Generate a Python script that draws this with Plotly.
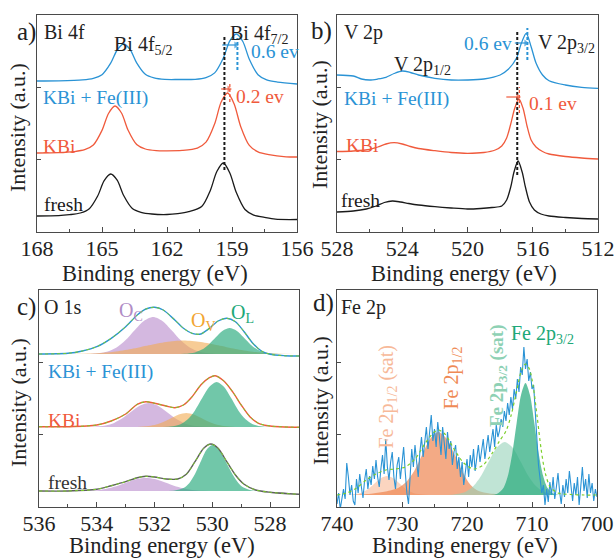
import plotly.graph_objects as go

W, H = 615, 558
FONT = "Times New Roman, Liberation Serif, serif"
BLUE = "#2a93d5"
RED = "#f05a3c"
BLACK = "#1a1a1a"
GRAY = "#5e5e5e"
FRAME = "#4a4a4a"

# ---------------- Panel a : Bi 4f ----------------
a_fresh_x = [168.0, 167.0, 166.5, 166.0, 165.6, 165.2, 164.9, 164.6, 164.3, 164.0, 163.6, 163.2, 162.7, 162.0,
             161.5, 161.0, 160.4, 160.0, 159.7, 159.4, 159.1, 158.8, 158.4, 158.0, 157.5, 157.0, 156.0]
a_fresh_y = [16, 16.3, 17.3, 19, 23, 36, 51.3, 58, 51.8, 36.5, 23.5, 19.7, 18, 17.5,
             18.4, 20.3, 25.4, 41.6, 60.5, 69, 59, 39.4, 22.5, 16.9, 14.6, 12.8, 12.5]
a_kbi_x = [168, 167, 166.3, 165.8, 165.4, 165.0, 164.7, 164.4, 164.1, 163.8, 163.4, 163.0, 162.5, 162.0,
           161.3, 160.6, 160.2, 159.8, 159.5, 159.2, 158.9, 158.6, 158.2, 157.8, 157.3, 156.5, 156.0]
a_kbi_y = [79, 79.3, 80.4, 82.3, 87, 101.6, 118.5, 126, 119, 102, 87.5, 83, 81.4, 81.2,
           81.6, 83.9, 89.8, 108.2, 130, 139, 128, 105.6, 86.6, 80.1, 77.3, 75.2, 75]
a_fe_x = [168, 167, 165.9, 165.4, 165.0, 164.6, 164.3, 164.0, 163.7, 163.4, 163.0, 162.6, 162.1,
          161.5, 160.7, 160.2, 159.8, 159.4, 159.1, 158.8, 158.5, 158.2, 157.8, 157.4, 156.9, 156.0]
a_fe_y = [151, 151.2, 152.1, 153.6, 157.3, 168.8, 182, 188, 182.3, 169.1, 157.7, 154.1, 152.6,
          152.5, 152.7, 154.4, 159.1, 174, 191.2, 198, 190.5, 172.7, 157.3, 152.1, 149.9, 148]
# reference peak positions (eV) and the vertical extent of their dashed markers
a_marks_x = [159.35, 159.1, 158.75]
a_marks_y0 = [62, 130, 162]
a_marks_y1 = [197, 150, 194]
a_arrows = [(159.45, 158.82, 187, BLUE), (159.5, 159.14, 143, RED)]

# ---------------- Panel b : V 2p ----------------
b_fresh_x = [528, 527, 526.2, 525.6, 525.1, 524.6, 524.1, 523.6, 523, 522, 521, 520, 519.2, 518.5, 517.9, 517.6,
             517.35, 517.15, 516.9, 516.65, 516.45, 516.2, 515.9, 515.5, 515, 514, 513, 512]
b_fresh_y = [20, 21, 23, 26, 29.5, 31, 30, 28.5, 27, 25.3, 24, 23, 23.5, 24.5, 26, 32,
             45, 60, 71, 60, 45, 30, 22, 18, 16, 14.5, 13.5, 13]
b_kbi_x = [528, 527, 526, 525.5, 525, 524.5, 524, 523.5, 523, 522, 521, 520, 519, 518.3, 517.9, 517.6,
           517.35, 517.1, 516.85, 516.6, 516.35, 516.1, 515.8, 515.4, 515, 514, 513, 512]
b_kbi_y = [80.5, 81, 82.5, 85, 88, 89.3, 88, 85.5, 83.5, 81.3, 79.5, 78.7, 79.5, 82, 86, 94,
           108, 124, 133, 124, 106, 92, 85, 80.5, 78, 75.5, 74, 73]
b_fe_x = [528, 527, 526.5, 526, 525.5, 525, 524.5, 524, 523.5, 523, 522, 521, 520, 519, 518, 517.5,
          517.0, 516.7, 516.4, 516.1, 515.8, 515.4, 515, 514, 513, 512]
b_fe_y = [157, 156, 153, 152, 153, 154.7, 158.5, 161, 159.5, 157, 153.7, 152, 152, 153, 157, 162.7,
          173.7, 188.7, 198.7, 185.3, 169, 157, 151.3, 147, 144.7, 143.7]
b_marks_x = [516.95, 516.82, 516.33]
b_marks_y0 = [57, 119, 172]
b_marks_y1 = [202, 145, 204]
b_arrows = [(517.1, 516.42, 189, BLUE), (517.62, 516.9, 135, RED)]

# ---------------- Panel c : O 1s ----------------
c_fresh_oc_x = [534.8, 534.3, 533.9, 533.5, 533.2, 532.9, 532.6, 532.3, 532.0, 531.7, 531.4, 531.1, 530.7, 530.3, 529.8]
c_fresh_oc_y = [16, 16.3, 17.1, 19.3, 22, 25.2, 27.9, 29, 27.9, 25.2, 22, 19.3, 17.1, 16.3, 16]
c_fresh_ol_x = [531.7, 531.3, 531.0, 530.8, 530.6, 530.4, 530.2, 530.0, 529.8, 529.6, 529.4, 529.2, 529.0, 528.7, 528.3]
c_fresh_ol_y = [16, 16.4, 18.9, 23.8, 33, 45.5, 57.2, 62, 58.5, 49, 38, 28, 21, 17, 16]
c_fresh_env_x = [536, 535, 534, 533.5, 533, 532.6, 532.3, 532.0, 531.6, 531.2, 530.9, 530.6, 530.3, 530.05,
                 529.8, 529.5, 529.2, 528.9, 528.5, 528, 527]
c_fresh_env_y = [16, 16, 17.7, 21.3, 25.3, 29.3, 30.7, 30, 28, 28, 32.7, 45.3, 58.7, 63,
                 58.7, 45.3, 32, 22.7, 17, 14.7, 12.7]

c_kbi_oc_x = [534.6, 534.15, 533.7, 533.4, 533.1, 532.8, 532.5, 532.2, 531.9, 531.6, 531.3, 531.0, 530.7, 530.25, 529.8]
c_kbi_oc_y = [80, 80.2, 81.5, 84.1, 88.9, 95.4, 101.5, 104, 101.5, 95.4, 88.9, 84.1, 81.5, 80.2, 80]
c_kbi_ov_x = [533.0, 532.6, 532.2, 531.94, 531.68, 531.42, 531.16, 530.9, 530.64, 530.38, 530.12, 529.86, 529.6, 529.2, 528.8]
c_kbi_ov_y = [80, 80.1, 80.9, 82.4, 85.2, 89, 92.5, 94, 92.5, 89, 85.2, 82.4, 80.9, 80.1, 80]
c_kbi_ol_x = [531.9, 531.45, 531.1, 530.85, 530.6, 530.35, 530.1, 529.85, 529.6, 529.35, 529.1, 528.85, 528.6, 528.25, 527.8]
c_kbi_ol_y = [80, 80.4, 82.8, 87.7, 96.6, 108.9, 120.3, 125, 120.3, 108.9, 96.6, 87.7, 82.8, 80.4, 80]
c_kbi_env_x = [536, 535, 534, 533.5, 533, 532.6, 532.3, 532.0, 531.6, 531.3, 531.0, 530.7, 530.4, 530.1,
               529.9, 529.6, 529.3, 529.0, 528.7, 528.4, 528, 527]
c_kbi_env_y = [80.3, 80.3, 82, 86, 93, 102.7, 105.3, 103.7, 101, 99.3, 102, 110.3, 122, 129.3,
               131.3, 126, 115.3, 102, 90.3, 83.7, 81, 79.7]

c_fe_oc_x = [534.6, 534.15, 533.65, 533.33, 533.01, 532.69, 532.37, 532.05, 531.73, 531.41, 531.09, 530.77, 530.45, 529.95, 529.5]
c_fe_oc_y = [153, 153.3, 155.3, 159.3, 166.7, 176.8, 186.1, 190, 186.1, 176.8, 166.7, 159.3, 155.3, 153.3, 153]
c_fe_ov_x = [535.5, 534.9, 534.0, 533.4, 532.8, 532.2, 531.6, 531.0, 530.4, 529.8, 529.2, 528.6, 528.0, 527.1]
c_fe_ov_y = [153, 153.1, 153.8, 155.3, 158, 161.7, 165.1, 166.5, 165.1, 161.7, 158, 155.3, 153.8, 153]
c_fe_ol_x = [531.4, 530.96, 530.6, 530.36, 530.12, 529.88, 529.64, 529.4, 529.16, 528.92, 528.68, 528.44, 528.2, 527.84, 527.4]
c_fe_ol_y = [153, 153.2, 154.6, 157.4, 162.6, 169.7, 176.3, 179, 176.3, 169.7, 162.6, 157.4, 154.6, 153.2, 153]
c_fe_env_x = [536, 535, 534.5, 534, 533.5, 533, 532.6, 532.3, 532.0, 531.7, 531.3, 531.0, 530.7, 530.4,
              530.1, 529.8, 529.5, 529.2, 528.9, 528.6, 528.3, 528, 527.5, 527]
c_fe_env_y = [153, 153.7, 156, 160.3, 168.7, 180.3, 192, 198, 199.7, 197, 187, 178.7, 173.7, 173,
              178.7, 186, 188.7, 185.3, 175.3, 163.7, 156, 152.7, 151.3, 151]

# ---------------- Panel d : Fe 2p ----------------
d_sat12_x = [739.5, 738.15, 736.8, 735.9, 735.0, 734.1, 733.2, 732.3, 731.4, 730.5, 729.6, 728.7, 727.8, 726.45, 725.0]
d_sat12_y = [12, 12.2, 13.2, 15.2, 19, 24.2, 29, 31, 29, 24.2, 19, 15.2, 13.2, 12.2, 12]
d_p12_x = [738.5, 737, 734.5, 732.5, 730.6, 729.36, 728.12, 726.88, 725.64, 724.4, 723.16, 721.92, 720.68,
           719.44, 718.2, 716.5, 714, 711, 709]
d_p12_y = [12, 12.2, 13.5, 15.5, 19, 25, 36, 52.4, 68.4, 75, 68.4, 52.4, 35, 22, 16, 13.5, 12.5, 12.1, 12]
d_sat32_x = [723.5, 722.0, 720.2, 719.0, 717.8, 716.6, 715.4, 714.2, 713.0, 711.8, 710.6, 709.4, 708.2, 706.4, 704.5]
d_sat32_y = [12, 12.5, 15.3, 21, 31.6, 46, 59.4, 65, 59.4, 46, 31.6, 21, 15.3, 12.5, 12]
d_p32_x = [716.5, 715.42, 714.4, 713.72, 713.04, 712.36, 711.68, 711.0, 710.32, 709.64, 708.96, 708.28, 707.6, 706.58, 705.5]
d_p32_y = [12, 13, 19, 31, 53.3, 83.9, 112.2, 124, 112.2, 83.9, 53.3, 31, 19, 13, 12]
d_env_x = [740, 738.5, 737, 735.5, 734, 732.5, 731, 729.5, 728, 726.5, 725.2, 724.4, 723.4, 722, 720.5, 719, 717.5,
           716, 715, 714, 713.2, 712.4, 711.6, 711.0, 710.4, 709.8, 709.2, 708.6, 708, 707.2, 706, 704, 702, 700]
d_env_y = [12, 14, 19, 27, 33, 37, 38, 40, 48, 63, 74, 77, 73, 58, 44, 38, 42,
           55, 66, 76, 92, 115, 137, 143, 138, 120, 90, 58, 35, 20, 14, 12.5, 12, 12]
# raw spectrum, one value every 0.25 eV from 740 eV down to 700 eV
d_raw_start, d_raw_step = 740.0, 0.25
d_raw_y = [3, 14, -2, 10, 18, 8, 44, 30, 12, 22, 6, 2, 28, 14, 33, 20, 9, 27, 38, 18, 31,
           22, 41, 28, 47, 30, 20, 38, 52, 33, 68, 40, 27, 45, 55, 30, 18, 42, 50, 28, 46,
           60, 35, 14, 3, 30, 58, 40, 62, 45, 30, 55, 70, 50, 64, 80, 58, 72, 92, 66, 78,
           60, 85, 70, 52, 80, 64, 48, 75, 58, 66, 42, 55, 62, 38, 50, 30, 45, 22, 36, 48,
           30, 52, 40, 58, 36, 50, 62, 45, 55, 68, 48, 60, 72, 55, 66, 78, 60, 82, 70, 76,
           88, 80, 96, 86, 104, 92, 110, 98, 118, 108, 128, 115, 140, 132, 160, 138, 148, 126, 135, 118,
           122, 92, 70, 42, 28, 14, 22, 2,
           18, 5, 25, 12, 30, 8, 20, 34, 15, 3, 22, 10, 28, 14, 36, 18, 6, 24, 12, 30,
           2, 20, 40, 16, 28, 9, 33, 14, 24, 6, 18, 10]
d_raw_x = [d_raw_start - d_raw_step * i for i in range(len(d_raw_y))]

# ---------------- figure ----------------
fig = go.Figure()
AX = {"a": "", "b": "2", "c": "3", "d": "4"}


def line(p, x, y, color, width=1.3, dash=None, shape="spline"):
    fig.add_trace(go.Scatter(x=x, y=y, xaxis="x" + AX[p], yaxis="y" + AX[p], mode="lines",
                             line=dict(color=color, width=width, dash=dash, shape=shape, smoothing=0.8),
                             hoverinfo="skip", showlegend=False))


def area(p, x, y, color):
    fig.add_trace(go.Scatter(x=x, y=y, xaxis="x" + AX[p], yaxis="y" + AX[p], mode="lines", fill="toself",
                             fillcolor=color, line=dict(width=0, shape="spline", smoothing=0.8),
                             hoverinfo="skip", showlegend=False))


def arrow(p, x0, x1, yv, col):
    fig.add_trace(go.Scatter(x=[x0, x1], y=[yv, yv], xaxis="x" + AX[p], yaxis="y" + AX[p], mode="lines+markers",
                             line=dict(color=col, width=1.2),
                             marker=dict(symbol=["line-ns", "triangle-right"], size=[0.1, 6], color=col,
                                         line=dict(width=0)),
                             hoverinfo="skip", showlegend=False))


# panel a
line("a", a_fresh_x, a_fresh_y, BLACK)
line("a", a_kbi_x, a_kbi_y, RED)
line("a", a_fe_x, a_fe_y, BLUE)
for xv, y0, y1, col in zip(a_marks_x, a_marks_y0, a_marks_y1, [BLACK, RED, BLUE]):
    line("a", [xv, xv], [y0, y1], col, width=2 if col != RED else 1.3, dash="3px,2px", shape="linear")
for ar in a_arrows:
    arrow("a", *ar)

# panel b
line("b", b_fresh_x, b_fresh_y, BLACK)
line("b", b_kbi_x, b_kbi_y, RED)
line("b", b_fe_x, b_fe_y, BLUE)
for xv, y0, y1, col in zip(b_marks_x, b_marks_y0, b_marks_y1, [BLACK, RED, BLUE]):
    line("b", [xv, xv], [y0, y1], col, width=2 if col != RED else 1.3, dash="3px,2px", shape="linear")
for ar in b_arrows:
    arrow("b", *ar)

# panel c
PURPLE_F = "rgba(185,140,205,0.62)"
ORANGE_F = "rgba(242,170,80,0.6)"
GREEN_F = "rgba(40,170,125,0.66)"
LIME = "#7ccf2a"
for oc, ov, ol, env, col in [
    ((c_fresh_oc_x, c_fresh_oc_y), None, (c_fresh_ol_x, c_fresh_ol_y), (c_fresh_env_x, c_fresh_env_y), GRAY),
    ((c_kbi_oc_x, c_kbi_oc_y), (c_kbi_ov_x, c_kbi_ov_y), (c_kbi_ol_x, c_kbi_ol_y), (c_kbi_env_x, c_kbi_env_y), RED),
    ((c_fe_oc_x, c_fe_oc_y), (c_fe_ov_x, c_fe_ov_y), (c_fe_ol_x, c_fe_ol_y), (c_fe_env_x, c_fe_env_y), BLUE),
]:
    area("c", *oc, PURPLE_F)
    if ov:
        area("c", *ov, ORANGE_F)
    area("c", *ol, GREEN_F)
    line("c", *env, col, width=1.4)
    line("c", *env, LIME, width=1.0, dash="dot")

# panel d
area("d", d_sat12_x, d_sat12_y, "rgba(250,195,165,0.7)")
area("d", d_p12_x, d_p12_y, "rgba(238,130,75,0.68)")
area("d", d_sat32_x, d_sat32_y, "rgba(150,210,185,0.6)")
area("d", d_p32_x, d_p32_y, "rgba(40,170,125,0.72)")
line("d", d_raw_x, d_raw_y, BLUE, width=1.1, shape="linear")
line("d", d_env_x, d_env_y, LIME, width=1.2, dash="dot")

ann = []


def P(xpx, ypx):
    return xpx / W, 1 - ypx / H


def txt(s, xpx, ypx, color="#222", size=19.5, anchor="left", angle=0):
    x, y = P(xpx, ypx)
    ann.append(dict(x=x, y=y, xref="paper", yref="paper", text=s, showarrow=False, xanchor=anchor,
                    yanchor="middle", textangle=angle, font=dict(family=FONT, size=size, color=color)))


# axis titles
for cx, cy in [(155, 273), (464, 273), (162, 545), (465, 545)]:
    txt("Binding energy (eV)", cx, cy, anchor="center", size=22.5)
for cx, cy in [(18, 128), (320, 125), (18, 403), (320, 401)]:
    txt("Intensity (a.u.)", cx, cy, anchor="center", angle=-90, size=22)

# panel a text
txt("a)", 15, 32, size=25)
txt("Bi 4f", 42, 32, size=20)
txt("Bi 4f<sub>5/2</sub>", 112, 45, size=20)
txt("Bi 4f<sub>7/2</sub>", 228, 34, size=20)
txt("0.6 ev", 249, 52, BLUE)
txt("KBi + Fe(III)", 41, 98, BLUE)
txt("0.2 ev", 234, 96, RED)
txt("KBi", 41, 146, RED)
txt("fresh", 42, 205, BLACK)
# panel b text
txt("b)", 309, 31, size=25)
txt("V 2p", 342, 33, size=20)
txt("V 2p<sub>1/2</sub>", 392, 65, size=20)
txt("V 2p<sub>3/2</sub>", 536, 44, size=20)
txt("0.6 ev", 462, 43, BLUE)
txt("KBi + Fe(III)", 342, 99, BLUE)
txt("0.1 ev", 527, 103, RED)
txt("KBi", 344, 145, RED)
txt("fresh", 339, 200, BLACK)
# panel c text
txt("c)", 15, 307, size=25)
txt("O 1s", 42, 307, size=20)
txt("O<sub>C</sub>", 117, 311, "#b08cc6", size=20)
txt("O<sub>V</sub>", 189, 321, "#f2a531", size=20)
txt("O<sub>L</sub>", 229, 313, "#20a878", size=20)
txt("KBi + Fe(III)", 46, 372, BLUE)
txt("KBi", 46, 420, RED)
txt("fresh", 46, 482, "#333")
# panel d text
txt("d)", 311, 303, size=25)
txt("Fe 2p", 339, 307, size=20)
txt("Fe 2p<sub>3/2</sub>", 509, 334, "#20a878", size=20)
txt("Fe 2p<sub>1/2</sub> (sat)", 372, 397, "#f7b999", size=20, angle=-90)
txt("Fe 2p<sub>1/2</sub>", 437, 378, "#ef8a55", size=20, angle=-90)
txt("<b>Fe 2p<sub>3/2</sub> (sat)</b>", 484, 376, "#8ed1b4", size=19, angle=-90)


def xcfg(dom, anchor, rng, dtick, minor, tick0):
    return dict(domain=dom, anchor=anchor, range=rng, tick0=tick0, dtick=dtick, ticks="inside", ticklen=5,
                tickwidth=1.1, tickcolor=FRAME, showline=True, linecolor=FRAME, linewidth=1.3, mirror=True,
                showgrid=False, zeroline=False, automargin=False, ticklabelstandoff=-4,
                tickfont=dict(family=FONT, size=22, color="#222"),
                minor=dict(dtick=minor, tick0=tick0, ticks="inside", ticklen=3, tickcolor=FRAME, showgrid=False))


def ycfg(dom, anchor):
    return dict(domain=dom, anchor=anchor, range=[0, 217], tickvals=[72.3, 144.7], ticks="inside", ticklen=4,
                tickcolor=FRAME, showticklabels=False, showline=True, linecolor=FRAME, linewidth=1.3,
                mirror=True, showgrid=False, zeroline=False, automargin=False)


YT = [1 - 232 / H, 1 - 15 / H]
YB = [1 - 507 / H, 1 - 290 / H]
fig.update_layout(
    width=W, height=H, margin=dict(l=0, r=0, t=0, b=0, pad=0, autoexpand=False),
    paper_bgcolor="white", plot_bgcolor="white",
    font=dict(family=FONT),
    xaxis=xcfg([37 / W, 297 / W], "y", [168, 156], 3, 1.5, 156),
    yaxis=ycfg(YT, "x"),
    xaxis2=xcfg([337 / W, 598 / W], "y2", [528, 512], 4, 2, 512),
    yaxis2=ycfg(YT, "x2"),
    xaxis3=xcfg([39 / W, 299 / W], "y3", [536, 527], 2, 1, 528),
    yaxis3=ycfg(YB, "x3"),
    xaxis4=xcfg([337 / W, 597 / W], "y4", [740, 700], 10, 5, 700),
    yaxis4=ycfg(YB, "x4"),
    annotations=ann,
)

fig.write_html("out.html", config={"displayModeBar": False},
               post_script="document.body.style.margin='0px';document.body.style.padding='0px';")
